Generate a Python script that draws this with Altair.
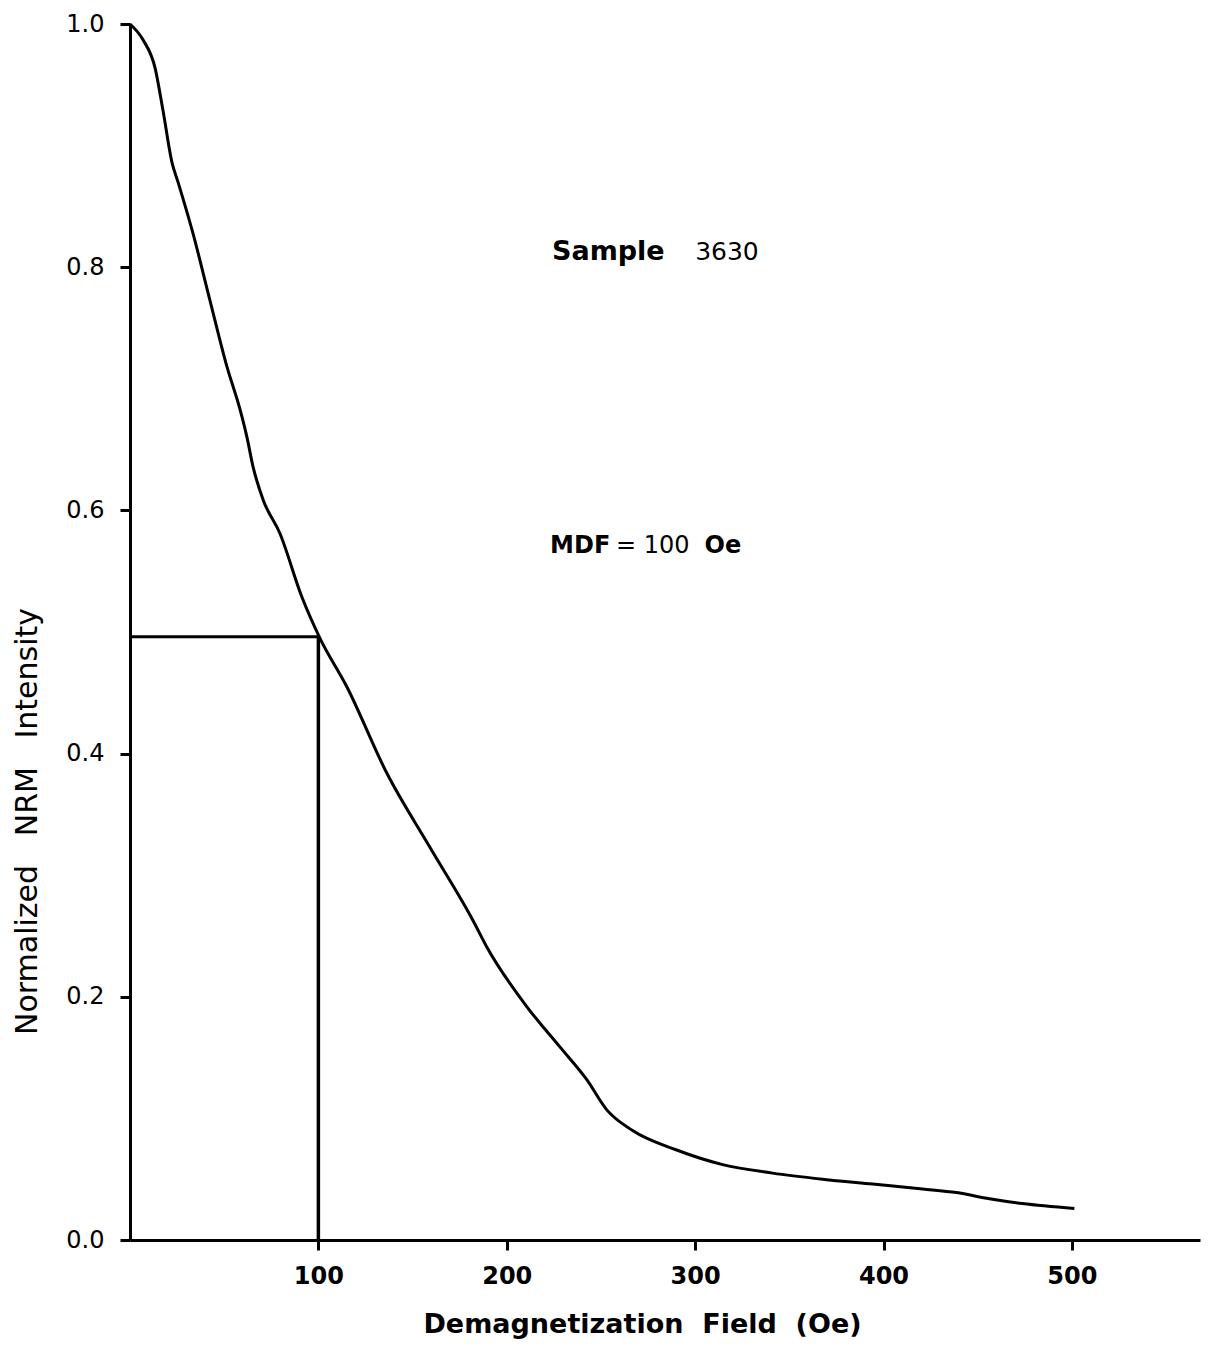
import altair as alt
import pandas as pd

# Curve
field_oe = [0, 6.9, 13.3, 17.5, 22.3, 25.5, 33.4, 42.4, 51.5, 58.4, 62.1, 65.3, 70.6, 79.6,
            91.2, 100.8, 115.1, 136.3, 159.2, 182.0, 189.4, 210.6, 228.1, 242.4, 253.1,
            266.8, 290.2, 314.6, 341.1, 367.6, 394.2, 420.7, 438.7, 456.2, 473.7, 501.3]
nrm = [1.0, 0.987, 0.964, 0.929, 0.886, 0.870, 0.828, 0.773, 0.718, 0.683, 0.660, 0.636,
       0.609, 0.581, 0.529, 0.495, 0.455, 0.384, 0.323, 0.263, 0.241, 0.192, 0.159, 0.132,
       0.107, 0.090, 0.074, 0.062, 0.055, 0.050, 0.046, 0.042, 0.039, 0.034, 0.030, 0.026]

# MDF guide
mdf_field = [100]
mdf_level = [0.496]

# tick values
x_ticks = [100, 200, 300, 400, 500]
y_ticks = [0.0, 0.2, 0.4, 0.6, 0.8, 1.0]

# annotations (anchor positions in data units)
ann_text = ["Sample", "3630", "MDF", "= 100", "Oe"]
ann_x = [224, 300, 223, 258, 305]
ann_y = [0.8125, 0.8125, 0.571, 0.571, 0.571]

curve = pd.DataFrame({"x": field_oe, "y": nrm})
mdf = pd.DataFrame({"x0": [0], "x": mdf_field, "y0": [0], "y": mdf_level})

FONT = "DejaVu Sans"
xs = alt.Scale(domain=[0, 568], nice=False, zero=True)
ys = alt.Scale(domain=[0, 1], nice=False)

NB = "\u00a0"

line = alt.Chart(curve).mark_line(color="black", strokeWidth=3, interpolate="monotone").encode(
    x=alt.X("x:Q", scale=xs, axis=alt.Axis(
        values=x_ticks, format="d", title=f"Demagnetization{NB}{NB}Field{NB}{NB}(Oe)",
        titleFont=FONT, titleFontSize=27, titleFontWeight="bold", titleColor="black",
        titleX=512, titleY=84, titleBaseline="middle", titleAnchor="start", titleAlign="center",
        labelFont=FONT, labelFontSize=24, labelFontWeight="bold", labelColor="black",
        labelPadding=14, tickSize=10, tickWidth=3, tickColor="black",
        domainColor="black", domainWidth=3, grid=False)),
    y=alt.Y("y:Q", scale=ys, axis=alt.Axis(
        values=y_ticks, format=".1f",
        title=f"Normalized{NB}{NB}{NB}NRM{NB}{NB}{NB}Intensity",
        titleFont=FONT, titleFontSize=30, titleFontWeight="normal", titleColor="black",
        titleX=-103, titleY=797, titleAngle=270, titleBaseline="middle", titleAlign="center",
        titleAnchor="start",
        labelFont=FONT, labelFontSize=24, labelColor="black",
        labelPadding=16, tickSize=10, tickWidth=3, tickColor="black",
        domainColor="black", domainWidth=3, grid=False)),
)

hrule = alt.Chart(mdf).mark_rule(color="black", strokeWidth=3).encode(
    x=alt.X("x0:Q", scale=xs), x2="x:Q", y=alt.Y("y:Q", scale=ys))
vrule = alt.Chart(mdf).mark_rule(color="black", strokeWidth=3.5).encode(
    x=alt.X("x:Q", scale=xs), y=alt.Y("y0:Q", scale=ys), y2="y:Q")

styles = [(27, "bold"), (25, "normal"), (24, "bold"), (24, "normal"), (24, "bold")]
texts = []
for i, (size, weight) in enumerate(styles):
    df = pd.DataFrame({"t": [ann_text[i]], "x": [ann_x[i]], "y": [ann_y[i]]})
    texts.append(
        alt.Chart(df).mark_text(
            align="left", baseline="middle", font=FONT, fontSize=size, fontWeight=weight,
            color="black"
        ).encode(x=alt.X("x:Q", scale=xs), y=alt.Y("y:Q", scale=ys), text="t:N")
    )

chart = alt.layer(line, hrule, vrule, *texts).properties(
    width=1070, height=1216,
    autosize=alt.AutoSizeParams(type="none"),
    padding={"left": 122, "top": 16, "right": 8, "bottom": 102},
    background="white",
).configure_view(stroke=None)

chart.save("out.html", embed_options={"renderer": "svg", "actions": False})
